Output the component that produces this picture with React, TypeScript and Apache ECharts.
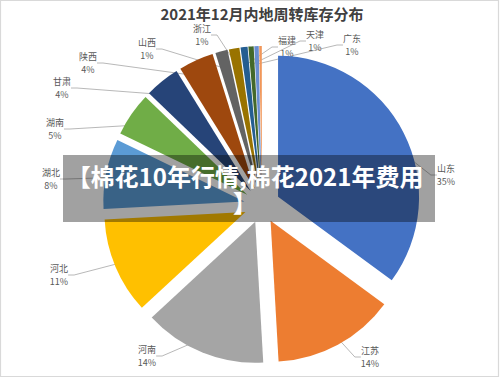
import React, { useEffect, useRef } from 'react';
import * as echarts from 'echarts';

const titleText = '2021年12月内地周转库存分布';
const provinces = ['山东', '江苏', '河南', '河北', '湖北', '湖南', '甘肃', '陕西', '山西', '浙江', '福建', '天津', '广东', '其他'];
const shares = [35, 14, 14, 11, 8, 5, 4, 4, 1.4, 1.2, 0.8, 0.6, 0.5, 0.3];
const sliceColors = ['#4472C4', '#ED7D31', '#A5A5A5', '#FFC000', '#5B9BD5', '#70AD47', '#264478', '#9E480E', '#636363', '#997300', '#255E91', '#43682B', '#698ED0', '#F1975A'];
const unlabeled = ['其他'];
const bannerLines = ['【棉花10年行情,棉花2021年费用', '】'];

// label placement (layout only)
const labelSpots: Record<string, [number, number]> = {
  山东: [446, 175],
  江苏: [370, 357],
  河南: [147, 356],
  河北: [59, 275],
  湖北: [51, 179],
  湖南: [55, 129],
  甘肃: [62, 88],
  陕西: [88, 63],
  山西: [147, 49],
  浙江: [202, 35],
  福建: [287, 47],
  天津: [315, 41],
  广东: [352, 45],
};

const FONT = '"Noto Sans CJK SC", "Noto Sans", sans-serif';
const CENTER = [262, 205];
const RADIUS = 141;

export default function App() {
  const ref = useRef<HTMLDivElement>(null);
  useEffect(() => {
    if (!ref.current) return;
    const chart = echarts.init(ref.current, undefined, { renderer: 'svg' });
    chart.setOption({
      animation: false,
      backgroundColor: '#ffffff',
      title: {
        text: titleText,
        left: 262,
        top: 4,
        padding: 0,
        textAlign: 'center',
        textStyle: { fontSize: 15, lineHeight: 18, fontWeight: 'bold', color: '#404040', fontFamily: FONT },
      },
      graphic: [
        {
          type: 'rect',
          z: 100,
          shape: { x: 0.5, y: 0.5, width: 498, height: 376 },
          style: { fill: 'none', stroke: '#d9d9d9', lineWidth: 1.2 },
          silent: true,
        },
        {
          type: 'rect',
          z: 100,
          shape: { x: 63, y: 155, width: 372, height: 67 },
          style: { fill: 'rgba(0,0,0,0.37)' },
          silent: true,
        },
        ...bannerLines.map((t, i) => ({
          type: 'text',
          z: 101,
          x: 245,
          y: 175 + i * 26,
          style: {
            text: t,
            fill: '#ffffff',
            font: 'bold 24px ' + FONT,
            align: 'center',
            verticalAlign: 'middle',
          },
          silent: true,
        })),
      ],
      series: [
        {
          // exploded slices
          type: 'pie',
          z: 3,
          center: CENTER,
          radius: RADIUS,
          startAngle: 90,
          clockwise: true,
          selectedMode: 'multiple',
          selectedOffset: 18,
          emphasis: { disabled: true },
          label: { show: false },
          labelLine: { show: false },
          data: provinces.map((name, i) => ({
            name,
            value: shares[i],
            selected: true,
            itemStyle: { color: sliceColors[i] },
          })),
        },
        {
          // labels and leader lines (slices invisible, drawn underneath)
          type: 'pie',
          z: 1,
          silent: true,
          center: CENTER,
          radius: RADIUS,
          startAngle: 90,
          clockwise: true,
          percentPrecision: 0,
          avoidLabelOverlap: false,
          emphasis: { disabled: true },
          label: {
            show: true,
            position: 'outside',
            formatter: '{b}\n{d}%',
            color: '#595959',
            fontSize: 9,
            lineHeight: 13,
            fontFamily: FONT,
            align: 'center',
          },
          labelLine: {
            show: true,
            length: 10,
            length2: 6,
            lineStyle: { color: '#a6a6a6', width: 0.8, opacity: 1 },
          },
          labelLayout: (p: any) => {
            const spot = labelSpots[provinces[p.dataIndex]];
            if (!spot) return {};
            return { x: spot[0], y: spot[1], align: 'center', verticalAlign: 'middle' };
          },
          data: provinces.map((name, i) => {
            const hide = unlabeled.indexOf(name) >= 0;
            return {
              name,
              value: shares[i],
              itemStyle: { color: 'rgba(0,0,0,0)' },
              label: hide ? { show: false } : undefined,
              labelLine: hide ? { show: false } : undefined,
            };
          }),
        },
      ],
    });
    return () => chart.dispose();
  }, []);
  return <div ref={ref} style={{ position: 'fixed', left: 0, top: 0, width: 500, height: 378 }} />;
}
